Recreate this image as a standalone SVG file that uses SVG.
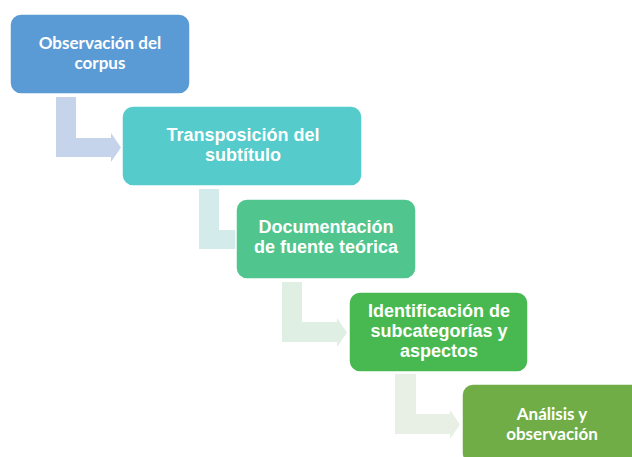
<svg xmlns="http://www.w3.org/2000/svg" width="632" height="457" viewBox="0 0 632 457">
<style>
.box{stroke:#ffffff;stroke-width:1.5}
.t1{font-family:Lato,"Liberation Sans",sans-serif;font-weight:bold;font-size:17px;fill:#ffffff;text-anchor:middle}
.t2{font-family:"Liberation Sans",Arial,sans-serif;font-weight:bold;font-size:18px;fill:#ffffff;text-anchor:middle}
</style>
<rect width="632" height="457" fill="#ffffff"/>
<g id="connectors">
<path d="M56,97 H76 V138 H111 V133 L121,147.5 L111,162 V157 H56 Z" fill="#C5D4EB"/>
<path d="M199,189 H219 V230 H238 V225 L248,239.5 L238,254 V249 H199 Z" fill="#D3EBEB"/>
<path d="M282,282 H302 V322 H337 V318 L347,332.5 L337,347 V342 H282 Z" fill="#DFEFE4"/>
<path d="M395,374 H416 V414 H450 V410 L460,424.5 L450,439 V434 H395 Z" fill="#E8EFE5"/>
</g>
<g id="node1">
<rect class="box" x="10" y="14" width="180" height="80" rx="11" fill="#5B9BD5"/>
<text class="t1" x="100" y="49">Observación del</text>
<text class="t1" x="100" y="68.5">corpus</text>
</g>
<g id="node2">
<rect class="box" x="122" y="106" width="240" height="80" rx="11" fill="#55CBCB"/>
<text class="t2" x="243" y="141">Transposición del</text>
<text class="t2" x="243" y="160.5">subtítulo</text>
</g>
<g id="node3">
<rect class="box" x="236" y="199" width="180" height="80" rx="11" fill="#50C58D"/>
<text class="t2" x="326" y="233">Documentación</text>
<text class="t2" x="326" y="253">de fuente teórica</text>
</g>
<g id="node4">
<rect class="box" x="349" y="292" width="179" height="80" rx="11" fill="#48B950"/>
<text class="t2" x="439" y="317">Identificación de</text>
<text class="t2" x="439" y="337">subcategorías y</text>
<text class="t2" x="439" y="356.5">aspectos</text>
</g>
<g id="node5">
<rect class="box" x="462" y="384" width="180" height="80" rx="11" fill="#70AD47"/>
<text class="t1" x="552" y="420">Análisis y</text>
<text class="t1" x="552" y="439.5">observación</text>
</g>
</svg>
